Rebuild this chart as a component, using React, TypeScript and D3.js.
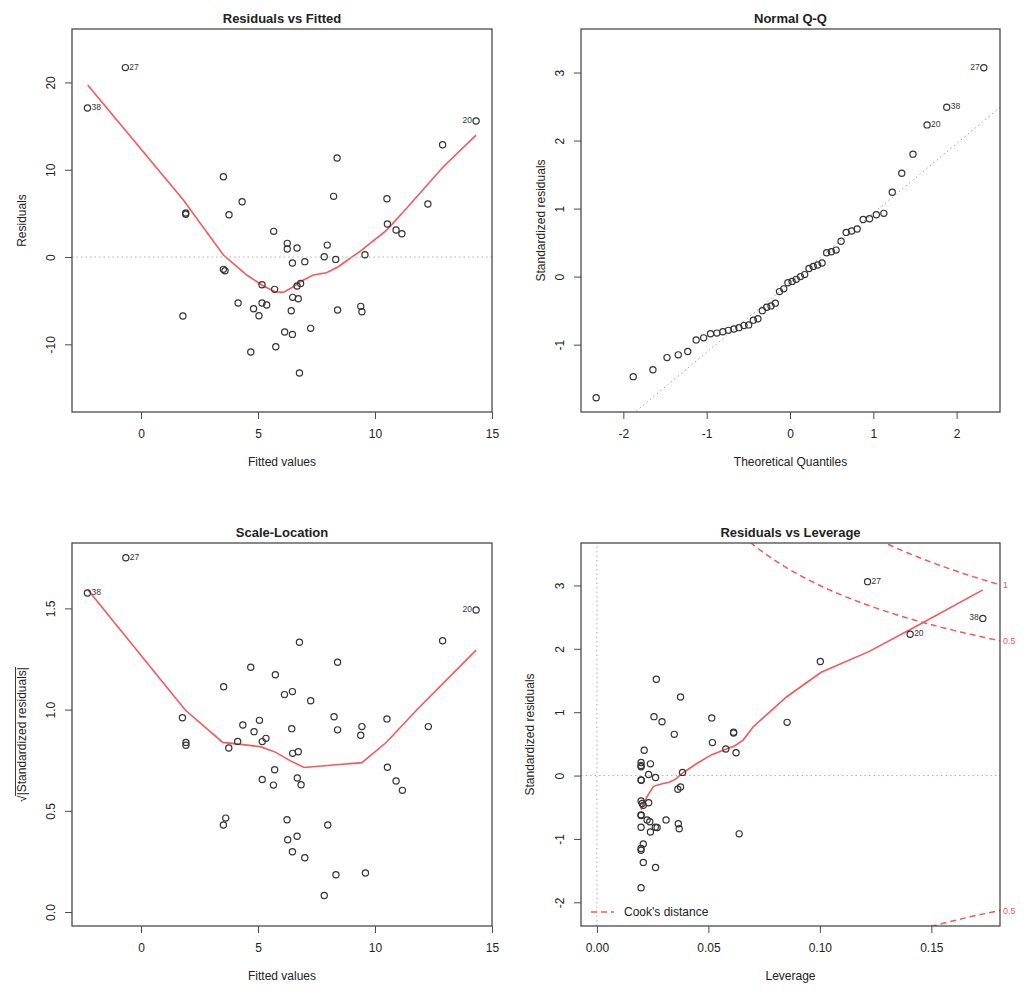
import React, { useEffect, useRef } from 'react';
import * as d3 from 'd3';

// Observations flagged by R (largest residuals)
const flaggedIds = ['27', '38', '20'];

// ---- Residuals vs Fitted ----
const rvfFitted = [
  -0.67, -2.29, 14.32, 12.89, 8.38, 3.52, 8.23, 4.32, 10.51, 12.26,
  1.91, 1.91, 3.76, 10.53, 10.9, 11.15, 5.67, 6.25, 6.25, 6.67,
  7.96, 9.57, 7.83, 8.32, 6.47, 7.0, 3.52, 3.59, 5.17, 5.71,
  6.67, 6.82, 6.48, 6.72, 4.15, 5.17, 5.37, 4.81, 5.04, 6.42,
  8.4, 9.39, 9.44, 1.79, 6.14, 6.47, 7.25, 5.76, 4.69, 6.77,
];
const rvfResid = [
  21.7, 17.07, 15.58, 12.87, 11.34, 9.2, 6.95, 6.34, 6.68, 6.07,
  5.04, 4.9, 4.85, 3.78, 3.09, 2.67, 2.94, 1.57, 0.92, 1.03,
  1.37, 0.27, 0.04, -0.27, -0.69, -0.53, -1.41, -1.57, -3.17, -3.7,
  -3.32, -3.02, -4.62, -4.77, -5.27, -5.27, -5.5, -5.92, -6.72, -6.15,
  -6.07, -5.65, -6.26, -6.76, -8.59, -8.86, -8.17, -10.27, -10.88, -13.29,
];
const rvfSmoothX = [-2.28, 1.81, 3.52, 4.52, 5.23, 5.73, 6.08, 6.51, 6.8, 7.36, 7.93, 8.43, 9.43, 10.5, 11.35, 12.92, 14.32];
const rvfSmoothY = [19.7, 6.53, 0.23, -2.06, -3.32, -3.97, -4.05, -3.4, -2.83, -2.06, -1.8, -1.11, 0.8, 3.09, 5.58, 10.34, 13.97];
const rvfXTicks = [0, 5, 10, 15];
const rvfYTicks = [-10, 0, 10, 20];

// ---- Normal Q-Q ----
const qqTheoretical = [
  -2.326, -1.881, -1.645, -1.476, -1.341, -1.227, -1.126, -1.036, -0.954, -0.878,
  -0.806, -0.739, -0.674, -0.613, -0.553, -0.496, -0.44, -0.385, -0.332, -0.279,
  -0.228, -0.176, -0.126, -0.075, -0.025, 0.025, 0.075, 0.126, 0.176, 0.228,
  0.279, 0.332, 0.385, 0.44, 0.496, 0.553, 0.613, 0.674, 0.739, 0.806,
  0.878, 0.954, 1.036, 1.126, 1.227, 1.341, 1.476, 1.645, 1.881, 2.326,
];
const qqSample = [
  -1.78, -1.47, -1.37, -1.19, -1.15, -1.1, -0.93, -0.9, -0.84, -0.83,
  -0.81, -0.79, -0.77, -0.75, -0.72, -0.71, -0.64, -0.62, -0.5, -0.45,
  -0.43, -0.39, -0.22, -0.18, -0.09, -0.07, -0.04, 0.0, 0.03, 0.12,
  0.15, 0.17, 0.2, 0.35, 0.365, 0.39, 0.52, 0.65, 0.67, 0.7,
  0.84, 0.85, 0.91, 0.93, 1.24, 1.52, 1.8, 2.23, 2.49, 3.07,
];
const qqLineIntercept = -0.09;
const qqLineSlope = 1.023;
const qqXTicks = [-2, -1, 0, 1, 2];
const qqYTicks = [-1, 0, 1, 2, 3];

// ---- Scale-Location ----
const slFitted = [
  -0.65, -2.29, 14.32, 12.89, 6.77, 8.4, 4.69, 5.74, 3.53, 6.13,
  6.47, 7.25, 1.77, 8.25, 10.51, 4.35, 5.06, 9.44, 12.28, 6.44,
  8.4, 4.83, 9.39, 1.92, 1.92, 4.13, 5.34, 5.18, 3.75, 6.48,
  6.72, 10.53, 5.71, 10.9, 11.17, 5.18, 5.66, 6.68, 6.84, 3.62,
  3.52, 6.24, 7.98, 6.27, 6.67, 6.47, 7.0, 8.33, 9.59, 7.83,
];
const slSqrtStd = [
  1.75, 1.576, 1.492, 1.34, 1.333, 1.234, 1.209, 1.172, 1.113, 1.074,
  1.089, 1.044, 0.96, 0.965, 0.954, 0.924, 0.947, 0.916, 0.916, 0.906,
  0.9, 0.891, 0.873, 0.838, 0.824, 0.843, 0.858, 0.842, 0.81, 0.784,
  0.792, 0.715, 0.703, 0.647, 0.601, 0.655, 0.627, 0.662, 0.629, 0.464,
  0.43, 0.456, 0.43, 0.357, 0.374, 0.298, 0.268, 0.184, 0.193, 0.082,
];
const slSmoothX = [-2.29, 1.89, 3.49, 5.09, 5.74, 6.37, 6.97, 8.22, 9.44, 10.5, 11.78, 14.32];
const slSmoothY = [1.594, 0.998, 0.838, 0.817, 0.79, 0.748, 0.714, 0.726, 0.738, 0.84, 0.998, 1.294];
const slYTicks = [0, 0.5, 1, 1.5];

// ---- Residuals vs Leverage ----
const rvlLeverage = [
  0.1214, 0.1731, 0.1405, 0.1002, 0.02665, 0.0375, 0.0256, 0.0292, 0.0515, 0.0853,
  0.0613, 0.0613, 0.0347, 0.0518, 0.0578, 0.0624, 0.0212, 0.0198, 0.0198, 0.0198,
  0.024, 0.0232, 0.0263, 0.0384, 0.0198, 0.0199, 0.0363, 0.0375, 0.0198, 0.0203,
  0.0232, 0.0208, 0.0198, 0.0198, 0.0225, 0.0237, 0.031, 0.0262, 0.027, 0.0198,
  0.0365, 0.0369, 0.024, 0.0638, 0.0208, 0.0198, 0.0198, 0.0208, 0.0263, 0.0198,
];
const rvlStd = [
  3.06, 2.48, 2.23, 1.8, 1.52, 1.24, 0.93, 0.85, 0.91, 0.84,
  0.685, 0.67, 0.65, 0.52, 0.42, 0.36, 0.4, 0.205, 0.16, 0.14,
  0.185, 0.016, -0.03, 0.05, -0.07, -0.075, -0.215, -0.18, -0.4, -0.44,
  -0.43, -0.47, -0.62, -0.63, -0.7, -0.73, -0.7, -0.815, -0.82, -0.815,
  -0.76, -0.84, -0.89, -0.92, -1.08, -1.15, -1.18, -1.37, -1.45, -1.77,
];
const rvlSmoothX = [0.0198, 0.0225, 0.0254, 0.0292, 0.0321, 0.0351, 0.0384, 0.0448, 0.0515, 0.0619, 0.0656, 0.0701, 0.085, 0.1006, 0.1222, 0.1445, 0.1731];
const rvlSmoothY = [-0.54, -0.33, -0.17, -0.13, -0.11, -0.06, 0.04, 0.19, 0.33, 0.47, 0.56, 0.77, 1.24, 1.63, 1.96, 2.38, 2.93];
const cookLevels = [0.5, 1];
const cookLabels = ['0.5', '1'];
const nParams = 2;
const rvlXTicks = [0, 0.05, 0.1, 0.15];
const rvlYTicks = [-2, -1, 0, 1, 2, 3];

const FONT = '"Liberation Sans", Arial, Helvetica, sans-serif';
const INK = '#222';
const FRAME = '#4a4a4a';
const RED = '#f55858';
const GREY = '#b0b0b0';

type Side = 'left' | 'right';
type Sel = d3.Selection<SVGGElement, unknown, null, undefined>;

interface PanelSpec {
  id: string;
  box: [number, number, number, number];
  xDomain: [number, number];
  yDomain: [number, number];
  xTicks: number[];
  xFormat: (d: number) => string;
  yTicks: number[];
  yFormat: (d: number) => string;
  title: string;
  xLabel: string;
  yLabel: string;
  yLabelOffset: number;
  xs: number[];
  ys: number[];
  flagIdx: number[];
  flagSide: Side[];
  smoothX?: number[];
  smoothY?: number[];
}

// R prints a plain hyphen for negative numbers
const hyphen = (f: (d: number) => string) => (d: number) => f(d).replace('\u2212', '-');

function drawPanel(root: Sel, spec: PanelSpec) {
  const [x0, y0, x1, y1] = spec.box;
  const x = d3.scaleLinear().domain(spec.xDomain).range([x0, x1]);
  const y = d3.scaleLinear().domain(spec.yDomain).range([y1, y0]);
  const g = root.append('g');

  g.append('clipPath').attr('id', `clip-${spec.id}`)
    .append('rect')
    .attr('x', x0).attr('y', y0)
    .attr('width', x1 - x0).attr('height', y1 - y0);
  const plot = g.append('g').attr('clip-path', `url(#clip-${spec.id})`);

  // Axes (R style: outward ticks, rotated y labels)
  const xAxis = g.append('g')
    .attr('transform', `translate(0,${y1})`)
    .call(d3.axisBottom(x).tickValues(spec.xTicks).tickFormat(hyphen(spec.xFormat) as any).tickSize(7).tickSizeOuter(0));
  xAxis.select('.domain').remove();
  xAxis.attr('font-size', 12).attr('font-family', FONT);
  xAxis.selectAll('line').attr('stroke', FRAME);
  xAxis.selectAll('text').attr('y', 21.5).attr('dy', '0.35em').attr('fill', INK);

  const yAxis = g.append('g')
    .attr('transform', `translate(${x0},0)`)
    .call(d3.axisLeft(y).tickValues(spec.yTicks).tickFormat(hyphen(spec.yFormat) as any).tickSize(7).tickSizeOuter(0));
  yAxis.select('.domain').remove();
  yAxis.attr('font-size', 12).attr('font-family', FONT);
  yAxis.selectAll('line').attr('stroke', FRAME);
  yAxis.selectAll('text')
    .attr('transform', 'rotate(-90)')
    .attr('x', 0).attr('y', -21).attr('dy', '0.35em')
    .attr('text-anchor', 'middle').attr('fill', INK);

  // Frame
  g.append('rect')
    .attr('x', x0).attr('y', y0)
    .attr('width', x1 - x0).attr('height', y1 - y0)
    .attr('fill', 'none').attr('stroke', FRAME).attr('stroke-width', 1.3);

  // Titles
  g.append('text')
    .attr('x', (x0 + x1) / 2).attr('y', y0 - 6)
    .attr('text-anchor', 'middle')
    .attr('font-family', FONT).attr('font-size', 13).attr('font-weight', 'bold')
    .attr('fill', INK).text(spec.title);

  g.append('text')
    .attr('x', (x0 + x1) / 2).attr('y', y1 + 50).attr('dy', '0.35em')
    .attr('text-anchor', 'middle')
    .attr('font-family', FONT).attr('font-size', 12)
    .attr('fill', INK).text(spec.xLabel);

  if (spec.yLabel) {
    g.append('text')
      .attr('transform', `translate(${x0 - spec.yLabelOffset},${(y0 + y1) / 2}) rotate(-90)`)
      .attr('dy', '0.35em')
      .attr('text-anchor', 'middle')
      .attr('font-family', FONT).attr('font-size', 12)
      .attr('fill', INK).text(spec.yLabel);
  }

  // Points
  g.selectAll('circle.pt')
    .data(d3.range(spec.xs.length))
    .join('circle')
    .attr('class', 'pt')
    .attr('cx', i => x(spec.xs[i]))
    .attr('cy', i => y(spec.ys[i]))
    .attr('r', 3.1)
    .attr('fill', 'none')
    .attr('stroke', '#333')
    .attr('stroke-width', 1.2);

  // Smoother
  if (spec.smoothX && spec.smoothY) {
    const sy = spec.smoothY;
    const line = d3.line<number>()
      .x(d => x(d))
      .y((_, i) => y(sy[i]));
    plot.append('path')
      .attr('d', line(spec.smoothX))
      .attr('fill', 'none')
      .attr('stroke', RED)
      .attr('stroke-width', 1.6);
  }

  // Labels of flagged observations
  spec.flagIdx.forEach((i, k) => {
    const side = spec.flagSide[k];
    g.append('text')
      .attr('x', x(spec.xs[i]) + (side === 'right' ? 4 : -4))
      .attr('y', y(spec.ys[i]) - 1)
      .attr('dy', '0.35em')
      .attr('text-anchor', side === 'right' ? 'start' : 'end')
      .attr('font-family', FONT).attr('font-size', 8.5)
      .attr('fill', '#333')
      .text(flaggedIds[k]);
  });

  return { x, y, g, plot };
}

export default function App() {
  const ref = useRef<SVGSVGElement>(null);

  useEffect(() => {
    if (!ref.current) return;
    const svg = d3.select(ref.current);
    svg.selectAll('*').remove();
    const root = svg.append('g') as Sel;

    const fmt0 = (d: number) => String(d);

    // Residuals vs Fitted
    const p1 = drawPanel(root, {
      id: 'rvf',
      box: [72, 29, 492, 412],
      xDomain: [-2.95, 15.0],
      yDomain: [-17.75, 26.12],
      xTicks: rvfXTicks, xFormat: fmt0,
      yTicks: rvfYTicks, yFormat: fmt0,
      title: 'Residuals vs Fitted',
      xLabel: 'Fitted values',
      yLabel: 'Residuals',
      yLabelOffset: 50,
      xs: rvfFitted, ys: rvfResid,
      flagIdx: [0, 1, 2], flagSide: ['right', 'right', 'left'],
      smoothX: rvfSmoothX, smoothY: rvfSmoothY,
    });
    p1.plot.append('line')
      .attr('x1', p1.x.range()[0]).attr('x2', p1.x.range()[1])
      .attr('y1', p1.y(0)).attr('y2', p1.y(0))
      .attr('stroke', GREY).attr('stroke-dasharray', '1.5,3');

    // Normal Q-Q
    const p2 = drawPanel(root, {
      id: 'qq',
      box: [581, 29, 1000, 412],
      xDomain: [-2.508, 2.52],
      yDomain: [-1.99, 3.64],
      xTicks: qqXTicks, xFormat: fmt0,
      yTicks: qqYTicks, yFormat: fmt0,
      title: 'Normal Q-Q',
      xLabel: 'Theoretical Quantiles',
      yLabel: 'Standardized residuals',
      yLabelOffset: 40,
      xs: qqTheoretical, ys: qqSample,
      flagIdx: [49, 48, 47], flagSide: ['left', 'right', 'right'],
    });
    const qd = p2.x.domain();
    p2.plot.append('line')
      .attr('x1', p2.x(qd[0])).attr('y1', p2.y(qqLineIntercept + qqLineSlope * qd[0]))
      .attr('x2', p2.x(qd[1])).attr('y2', p2.y(qqLineIntercept + qqLineSlope * qd[1]))
      .attr('stroke', '#a0a0a0').attr('stroke-dasharray', '1.5,3');

    // Scale-Location
    const p3 = drawPanel(root, {
      id: 'sl',
      box: [72, 543, 492, 926],
      xDomain: [-2.95, 15.0],
      yDomain: [-0.069, 1.823],
      xTicks: rvfXTicks, xFormat: fmt0,
      yTicks: slYTicks, yFormat: d3.format('.1f'),
      title: 'Scale-Location',
      xLabel: 'Fitted values',
      yLabel: '',
      yLabelOffset: 50,
      xs: slFitted, ys: slSqrtStd,
      flagIdx: [0, 1, 2], flagSide: ['right', 'right', 'left'],
      smoothX: slSmoothX, smoothY: slSmoothY,
    });
    {
      const [bx0, by0, , by1] = [72, 543, 492, 926];
      const lab = p3.g.append('g')
        .attr('transform', `translate(${bx0 - 50},${(by0 + by1) / 2}) rotate(-90)`);
      const t = lab.append('text')
        .attr('text-anchor', 'middle').attr('dy', '0.35em')
        .attr('font-family', FONT).attr('font-size', 12).attr('fill', INK)
        .text('√|Standardized residuals|');
      const node = t.node() as SVGTextElement;
      const total = node.getComputedTextLength();
      const rootLen = node.getSubStringLength(0, 1);
      lab.append('line')
        .attr('x1', -total / 2 + rootLen - 0.5).attr('x2', total / 2)
        .attr('y1', -6.5).attr('y2', -6.5)
        .attr('stroke', INK).attr('stroke-width', 0.9);
    }

    // Residuals vs Leverage
    const p4 = drawPanel(root, {
      id: 'rvl',
      box: [581, 543, 1000, 926],
      xDomain: [-0.00714, 0.1808],
      yDomain: [-2.374, 3.67],
      xTicks: rvlXTicks, xFormat: d3.format('.2f'),
      yTicks: rvlYTicks, yFormat: fmt0,
      title: 'Residuals vs Leverage',
      xLabel: 'Leverage',
      yLabel: 'Standardized residuals',
      yLabelOffset: 51,
      xs: rvlLeverage, ys: rvlStd,
      flagIdx: [0, 1, 2], flagSide: ['right', 'left', 'right'],
      smoothX: rvlSmoothX, smoothY: rvlSmoothY,
    });
    const [, hMax] = p4.x.domain();
    p4.plot.append('line')
      .attr('x1', p4.x.range()[0]).attr('x2', p4.x.range()[1])
      .attr('y1', p4.y(0)).attr('y2', p4.y(0))
      .attr('stroke', GREY).attr('stroke-dasharray', '1.5,3');
    p4.plot.append('line')
      .attr('x1', p4.x(0)).attr('x2', p4.x(0))
      .attr('y1', p4.y.range()[0]).attr('y2', p4.y.range()[1])
      .attr('stroke', GREY).attr('stroke-dasharray', '1.5,3');

    // Cook's distance contours: r = ±sqrt(D * p * (1 - h) / h)
    const hh = d3.range(0.004, hMax + 0.0005, 0.001);
    cookLevels.forEach((lvl, k) => {
      const cook = (h: number) => Math.sqrt(lvl * nParams * (1 - h) / h);
      [1, -1].forEach(sgn => {
        const line = d3.line<number>().x(h => p4.x(h)).y(h => p4.y(sgn * cook(h)));
        p4.plot.append('path')
          .attr('d', line(hh))
          .attr('fill', 'none')
          .attr('stroke', RED)
          .attr('stroke-width', 1.5)
          .attr('stroke-dasharray', '6,4');
        const yv = sgn * cook(hMax);
        const [ylo, yhi] = p4.y.domain();
        if (yv > ylo - 0.3 && yv < yhi) {
          p4.g.append('text')
            .attr('x', p4.x.range()[1] + 3)
            .attr('y', p4.y(yv))
            .attr('dy', '0.35em')
            .attr('font-family', FONT).attr('font-size', 9)
            .attr('fill', RED)
            .text(cookLabels[k]);
        }
      });
    });

    // Legend
    const lx = p4.x.range()[0];
    const ly = p4.y.range()[0] - 14;
    p4.g.append('line')
      .attr('x1', lx + 10).attr('x2', lx + 33)
      .attr('y1', ly).attr('y2', ly)
      .attr('stroke', RED).attr('stroke-width', 1.5).attr('stroke-dasharray', '6,4');
    p4.g.append('text')
      .attr('x', lx + 43).attr('y', ly).attr('dy', '0.35em')
      .attr('font-family', FONT).attr('font-size', 12).attr('fill', INK)
      .text("Cook's distance");
  }, []);

  return (
    <div style={{ position: 'absolute', left: 0, top: 0 }}>
      <svg ref={ref} width={1036} height={1006} style={{ display: 'block', background: '#fff' }} />
    </div>
  );
}
